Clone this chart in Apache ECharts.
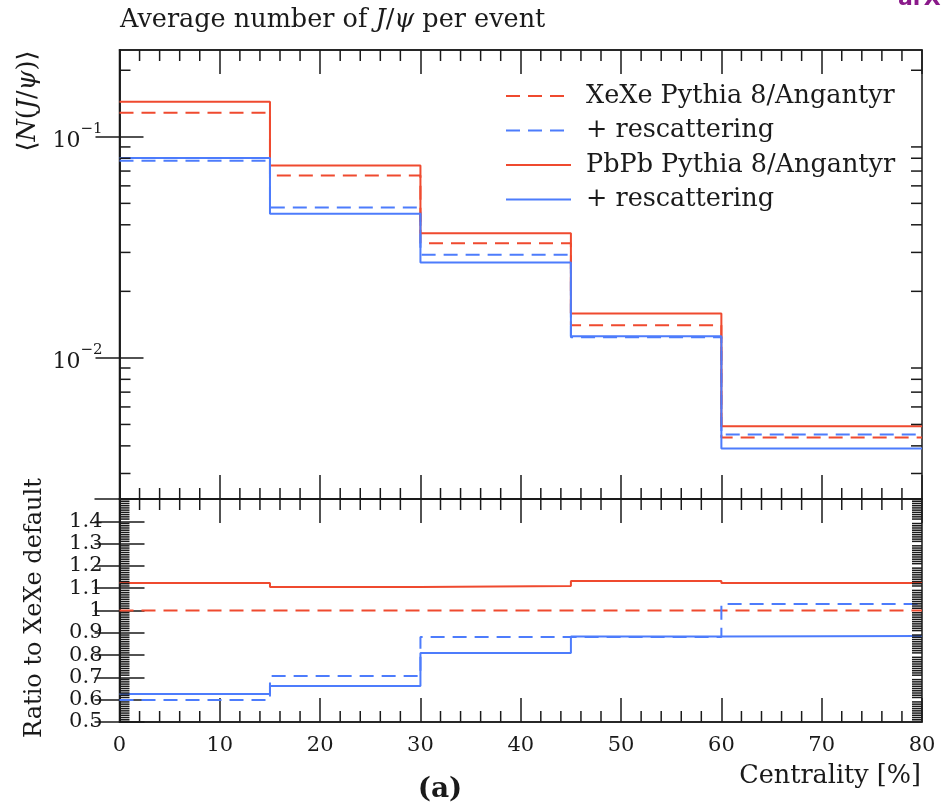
<!DOCTYPE html>
<html><head><meta charset="utf-8">
<script src="https://cdn.jsdelivr.net/npm/echarts@6/dist/echarts.min.js"></script>
<style>html,body{margin:0;padding:0;background:#fff}#c{width:941px;height:807px}</style>
</head><body><div id="c"></div>
<script>
// ---- data ----
const binEdges = [0, 15, 30, 45, 60, 80];
const xexeDefault   = [0.1285, 0.0669, 0.0330, 0.01406, 0.00436];
const xexeRescatter = [0.0779, 0.0479, 0.0293, 0.0124, 0.0045];
const pbpbDefault   = [0.144, 0.0742, 0.0366, 0.01588, 0.00491];
const pbpbRescatter = [0.0803, 0.0449, 0.0270, 0.01253, 0.00389];
const ratioXeXeDefault   = [1, 1, 1, 1, 1];
const ratioXeXeRescatter = [0.599, 0.706, 0.881, 0.881, 1.029];
const ratioPbPbDefault   = [1.123, 1.105, 1.110, 1.132, 1.123];
const ratioPbPbRescatter = [0.626, 0.661, 0.809, 0.883, 0.886];
// ---- tick marks ----
const logMajorTicks = [0.01, 0.1];
const logMinorTicks = [0.003,0.004,0.005,0.006,0.007,0.008,0.009,0.02,0.03,0.04,0.05,0.06,0.07,0.08,0.09,0.2];
const xMinorTicks = [2,4,6,8,12,14,16,18,22,24,26,28,32,34,36,38,42,44,46,48,52,54,56,58,62,64,66,68,72,74,76,78];
const ratioMinorTicks = [];
for (let k = 51; k < 150; k++) if (k % 10) ratioMinorTicks.push(k / 100);
const legendLabels = {xexe:'XeXe Pythia 8/Angantyr', xexeResc:'+ rescattering', pbpb:'PbPb Pythia 8/Angantyr', pbpbResc:'+ rescattering'};

const RED = '#ef4a2f', BLUE = '#4d7cfc', INK = '#1a1a1a';
const FONT = 'DejaVu Serif';
const DASH = [14, 8];
const X_RANGE = [0, 80], LOG_RANGE = [0.0023, 0.247], RATIO_RANGE = [0.5, 1.5];

function steps(vals){ return binEdges.map((e,i)=>[e, vals[Math.min(i, vals.length-1)]]); }
function line(name, vals, color, dashed, xi, yi){
  return {type:'line', name, data: steps(vals), step:'end', symbol:'none', xAxisIndex:xi, yAxisIndex:yi,
    lineStyle:{color, width:2, type: dashed ? DASH : 'solid'}, itemStyle:{color}, z:3, silent:true};
}
const axisCommon = {axisLine:{show:true, lineStyle:{color:INK, width:1.5}}, splitLine:{show:false}, minorTick:{show:false}};
function xAx(grid, pos, labels){
  return Object.assign({type:'value', gridIndex:grid, position:pos, min:X_RANGE[0], max:X_RANGE[1], interval:10,
    axisTick:{show:true, inside:true, length:24, lineStyle:{color:INK, width:1.5}},
    axisLabel:{show:labels, margin:13, fontFamily:FONT, fontSize:21, color:INK}}, axisCommon);
}
function logLabel(v){
  const e = Math.log10(v);
  if (Math.abs(e - Math.round(e)) > 1e-6) return '';
  return '{b|10}{s|\u2212' + (-Math.round(e)) + '}';
}
function yLog(pos, labels){
  return Object.assign({type:'log', gridIndex:0, position:pos, min:LOG_RANGE[0], max:LOG_RANGE[1], logBase:10,
    axisTick:{show:true, inside:true, length:24, customValues:logMajorTicks, lineStyle:{color:INK, width:1.5}},
    axisLabel:{show:labels, margin:17, customValues:logMajorTicks, formatter: logLabel,
      rich:{b:{fontFamily:FONT, fontSize:22, color:INK, lineHeight:30, verticalAlign:'bottom'},
            s:{fontFamily:FONT, fontSize:15, color:INK, lineHeight:15, verticalAlign:'top'}}}}, axisCommon);
}
function yRatio(pos, labels){
  return Object.assign({type:'value', gridIndex:1, position:pos, min:RATIO_RANGE[0], max:RATIO_RANGE[1], interval:0.1,
    axisTick:{show:true, inside:true, length:25, lineStyle:{color:INK, width:1.5}},
    axisLabel:{show:labels, margin:17, fontFamily:FONT, fontSize:21, color:INK, showMaxLabel:false,
      formatter: v => v > 1.45 ? '' : (Math.abs(v-1) < 1e-9 ? '1' : v.toFixed(1))}}, axisCommon);
}
const TST = {stroke:INK, lineWidth:1.5};
// vertical minor ticks at top and bottom edges of a grid
function xTickSeries(xi, yi, yRange, yMid){
  return {type:'custom', xAxisIndex:xi, yAxisIndex:yi, silent:true, z:5, clip:false,
    data: xMinorTicks.map(v=>[v, yMid]),
    renderItem: (p, api) => {
      const x = api.value(0);
      const B = api.coord([x, yRange[0]]), T = api.coord([x, yRange[1]]);
      return {type:'group', children:[
        {type:'line', shape:{x1:B[0], y1:B[1], x2:B[0], y2:B[1]-11}, style:TST},
        {type:'line', shape:{x1:T[0], y1:T[1], x2:T[0], y2:T[1]+11}, style:TST}]};
    }};
}
// horizontal minor ticks at left and right edges of a grid
function yTickSeries(xi, yi, vals, len){
  return {type:'custom', xAxisIndex:xi, yAxisIndex:yi, silent:true, z:5, clip:false,
    data: vals.map(v=>[40, v]),
    renderItem: (p, api) => {
      const v = api.value(1);
      const L = api.coord([X_RANGE[0], v]), R = api.coord([X_RANGE[1], v]);
      return {type:'group', children:[
        {type:'line', shape:{x1:L[0], y1:L[1], x2:L[0]+len, y2:L[1]}, style:TST},
        {type:'line', shape:{x1:R[0]-len, y1:R[1], x2:R[0], y2:R[1]}, style:TST}]};
    }};
}

const chart = echarts.init(document.getElementById('c'), null, {renderer:'canvas'});
chart.setOption({
  animation:false,
  backgroundColor:'#fff',
  grid:[
    {left:119.5, right:19, top:50, height:449, show:true, borderColor:INK, borderWidth:1.5, containLabel:false},
    {left:119.5, right:19, top:499, height:223, show:true, borderColor:INK, borderWidth:1.5, containLabel:false}
  ],
  xAxis:[xAx(0,'bottom',false), xAx(0,'top',false), xAx(1,'bottom',true), xAx(1,'top',false)],
  yAxis:[yLog('left',true), yLog('right',false), yRatio('left',true), yRatio('right',false)],
  legend:{orient:'vertical', left:505, top:83, padding:0, itemWidth:65, itemHeight:14, itemGap:8.5,
    data:['xexe','xexeResc','pbpb','pbpbResc'], formatter: n => legendLabels[n],
    itemStyle:{opacity:0},
    textStyle:{fontFamily:FONT, fontSize:25.5, color:INK, padding:[0,0,0,10]}, selectedMode:false},
  series:[
    line('xexe', xexeDefault, RED, true, 0, 0),
    line('xexeResc', xexeRescatter, BLUE, true, 0, 0),
    line('pbpb', pbpbDefault, RED, false, 0, 0),
    line('pbpbResc', pbpbRescatter, BLUE, false, 0, 0),
    line('r_xexe', ratioXeXeDefault, RED, true, 2, 2),
    line('r_xexeResc', ratioXeXeRescatter, BLUE, true, 2, 2),
    line('r_pbpb', ratioPbPbDefault, RED, false, 2, 2),
    line('r_pbpbResc', ratioPbPbRescatter, BLUE, false, 2, 2),
    yTickSeries(0, 0, logMinorTicks, 11),
    yTickSeries(2, 2, ratioMinorTicks, 10),
    xTickSeries(0, 0, LOG_RANGE, 0.02),
    xTickSeries(2, 2, RATIO_RANGE, 1)
  ],
  graphic:[
    {type:'text', x:120, y:20, style:{text:'Average number of {i|J}/{i|\u03c8} per event',
      fontFamily:FONT, fontSize:25.5, fill:INK, align:'left', verticalAlign:'middle',
      rich:{i:{fontFamily:FONT, fontSize:25.5, fontStyle:'italic', fill:INK}}}},
    {type:'text', x:28, y:101, rotation:Math.PI/2, style:{text:'\u27e8{i|N}({i|J}/{i|\u03c8})\u27e9',
      fontFamily:FONT, fontSize:25.5, fill:INK, align:'center', verticalAlign:'middle',
      rich:{i:{fontFamily:FONT, fontSize:25.5, fontStyle:'italic', fill:INK}}}},
    {type:'text', x:35, y:608, rotation:Math.PI/2, style:{text:'Ratio to XeXe default',
      fontFamily:FONT, fontSize:24, fill:INK, align:'center', verticalAlign:'middle'}},
    {type:'text', x:921, y:776, style:{text:'Centrality [%]', fontFamily:FONT, fontSize:25.5, fill:INK,
      align:'right', verticalAlign:'middle'}},
    {type:'text', x:440, y:790, style:{text:'(a)', fontFamily:FONT, fontSize:28, fontWeight:'bold', fill:INK,
      align:'center', verticalAlign:'middle'}},
    {type:'text', x:898, y:-1, style:{text:'arXiv', fontFamily:'DejaVu Sans', fontSize:22, fontWeight:'bold',
      fill:'#8a1a8a', align:'left', verticalAlign:'middle'}}
  ]
});
</script></body></html>
